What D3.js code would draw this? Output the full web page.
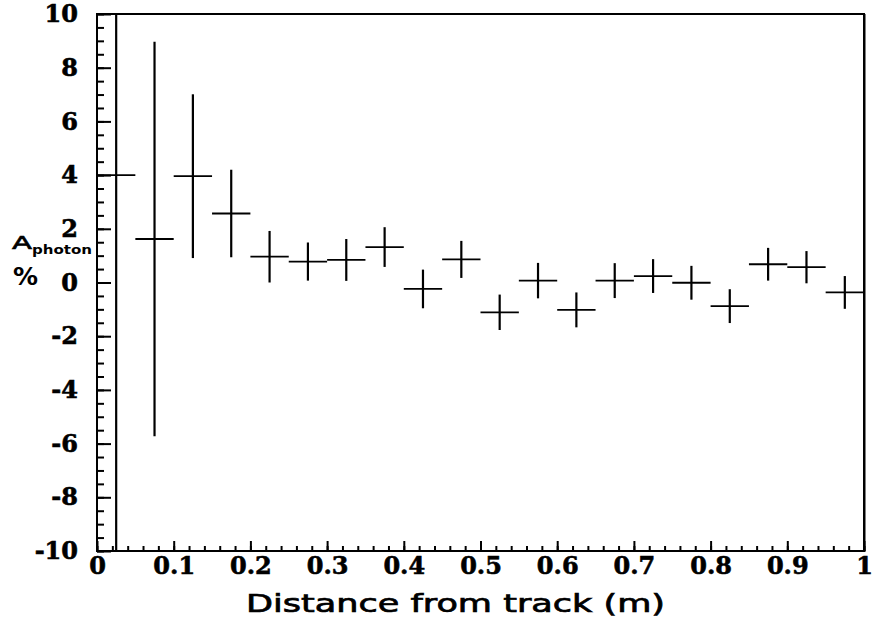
<!DOCTYPE html>
<html>
<head>
<meta charset="utf-8">
<script src="https://cdn.jsdelivr.net/npm/d3@7"></script>
<style>
  html, body { margin: 0; padding: 0; background: #fff; }
  svg { display: block; }
</style>
</head>
<body>
<svg id="chart" width="872" height="624"></svg>
<script>
// ---- data ----
const binCenters = [0.025, 0.075, 0.125, 0.175, 0.225, 0.275, 0.325, 0.375, 0.425, 0.475,
                    0.525, 0.575, 0.625, 0.675, 0.725, 0.775, 0.825, 0.875, 0.925, 0.975];
const binHalfWidth = [0.025, 0.025, 0.025, 0.025, 0.025, 0.025, 0.025, 0.025, 0.025, 0.025,
                      0.025, 0.025, 0.025, 0.025, 0.025, 0.025, 0.025, 0.025, 0.025, 0.025];
const asymmetry = [4.00, 1.62, 3.96, 2.57, 0.96, 0.78, 0.84, 1.32, -0.24, 0.86,
                   -1.11, 0.07, -1.02, 0.07, 0.24, -0.01, -0.88, 0.68, 0.57, -0.37];
const asymErr = [30, 7.35, 3.05, 1.63, 0.96, 0.71, 0.78, 0.74, 0.72, 0.69,
                 0.66, 0.66, 0.65, 0.65, 0.63, 0.63, 0.63, 0.61, 0.60, 0.61];
const xMajorTicks = [0, 0.1, 0.2, 0.3, 0.4, 0.5, 0.6, 0.7, 0.8, 0.9, 1];
const xTickLabels = ["0", "0.1", "0.2", "0.3", "0.4", "0.5", "0.6", "0.7", "0.8", "0.9", "1"];
const yMajorTicks = [-10, -8, -6, -4, -2, 0, 2, 4, 6, 8, 10];
const yTickLabels = ["-10", "-8", "-6", "-4", "-2", "0", "2", "4", "6", "8", "10"];
const xTitle = "Distance from track (m)";

// ---- layout ----
const L = 97, R = 864, T = 14, B = 551;
const svg = d3.select("#chart");
const x = d3.scaleLinear().domain([0, 1]).range([L, R]);
const y = d3.scaleLinear().domain([-10, 10]).range([B, T]);

const tickFont = "'DejaVu Serif', 'Liberation Serif', serif";

// minor ticks
const xMinor = d3.range(0, 1.0001, 0.02);
const yMinor = d3.range(-10, 10.0001, 0.5);

svg.append("g")
  .attr("transform", `translate(0,${B})`)
  .call(d3.axisBottom(x).tickValues(xMinor).tickSize(-5).tickFormat(""))
  .call(g => g.select(".domain").remove())
  .call(g => g.selectAll("line").attr("stroke", "#000").attr("stroke-width", 2));

svg.append("g")
  .attr("transform", `translate(${L},0)`)
  .call(d3.axisLeft(y).tickValues(yMinor).tickSize(-7).tickFormat(""))
  .call(g => g.select(".domain").remove())
  .call(g => g.selectAll("line").attr("stroke", "#000").attr("stroke-width", 2));

// major ticks + labels
svg.append("g")
  .attr("transform", `translate(0,${B})`)
  .call(d3.axisBottom(x).tickValues(xMajorTicks).tickSize(-10).tickPadding(6)
        .tickFormat((d, i) => xTickLabels[i]))
  .call(g => g.select(".domain").remove())
  .call(g => g.selectAll("line").attr("stroke", "#000").attr("stroke-width", 2))
  .call(g => g.selectAll("text").attr("fill", "#000").attr("stroke", "#000").attr("stroke-width", 0.6)
      .style("font-family", tickFont).style("font-weight", "bold").style("font-size", "24px"));

svg.append("g")
  .attr("transform", `translate(${L},0)`)
  .call(d3.axisLeft(y).tickValues(yMajorTicks).tickSize(-14).tickPadding(19)
        .tickFormat((d, i) => yTickLabels[i]))
  .call(g => g.select(".domain").remove())
  .call(g => g.selectAll("line").attr("stroke", "#000").attr("stroke-width", 2))
  .call(g => g.selectAll("text").attr("fill", "#000").attr("stroke", "#000").attr("stroke-width", 0.6)
      .style("font-family", tickFont).style("font-weight", "bold").style("font-size", "24px"));

// clip path for data
svg.append("clipPath").attr("id", "plotclip")
  .append("rect").attr("x", L).attr("y", T).attr("width", R - L).attr("height", B - T);

const data = binCenters.map((c, i) => ({ c, hw: binHalfWidth[i], v: asymmetry[i], e: asymErr[i] }));
const pts = svg.append("g").attr("clip-path", "url(#plotclip)");

pts.selectAll("line.v").data(data).join("line").attr("class", "v")
  .attr("x1", d => x(d.c)).attr("x2", d => x(d.c))
  .attr("y1", d => y(d.v + d.e)).attr("y2", d => y(d.v - d.e))
  .attr("stroke", "#000").attr("stroke-width", 2.2);

pts.selectAll("line.h").data(data).join("line").attr("class", "h")
  .attr("x1", d => x(d.c - d.hw)).attr("x2", d => x(d.c + d.hw))
  .attr("y1", d => y(d.v)).attr("y2", d => y(d.v))
  .attr("stroke", "#000").attr("stroke-width", 1.8);

// frame
svg.append("rect").attr("x", L).attr("y", T).attr("width", R - L).attr("height", B - T)
  .attr("fill", "none").attr("stroke", "#000").attr("stroke-width", 2);
svg.append("line").attr("x1", R + 0.5).attr("x2", R + 0.5).attr("y1", T).attr("y2", B + 1)
  .attr("stroke", "#000").attr("stroke-width", 2);

// titles
const titleFont = "'DejaVu Sans', 'Open Sans', sans-serif";
svg.append("text")
  .attr("x", 246).attr("y", 612)
  .attr("textLength", 419).attr("lengthAdjust", "spacingAndGlyphs")
  .style("font-family", titleFont).style("font-size", "25px").style("font-weight", "normal")
  .attr("stroke", "#000").attr("stroke-width", 0.7)
  .attr("fill", "#000")
  .text(xTitle);

svg.append("text")
  .attr("x", 12).attr("y", 249)
  .attr("textLength", 20).attr("lengthAdjust", "spacingAndGlyphs")
  .style("font-family", titleFont).style("font-size", "18px")
  .attr("stroke", "#000").attr("stroke-width", 0.6)
  .attr("fill", "#000").text("A");
svg.append("text")
  .attr("x", 32).attr("y", 254)
  .attr("textLength", 60).attr("lengthAdjust", "spacingAndGlyphs")
  .style("font-family", titleFont).style("font-size", "12px").style("font-weight", "bold")
  .attr("fill", "#000").text("photon");
svg.append("text")
  .attr("x", 13).attr("y", 285)
  .attr("textLength", 25).attr("lengthAdjust", "spacingAndGlyphs")
  .style("font-family", titleFont).style("font-size", "24px").style("font-weight", "bold")
  .attr("fill", "#000").text("%");
</script>
</body>
</html>
